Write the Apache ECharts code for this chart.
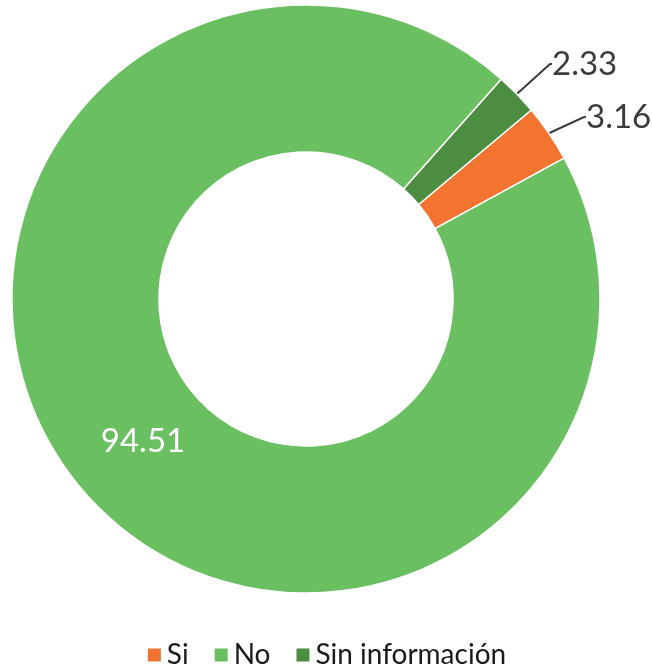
<!DOCTYPE html>
<html>
<head>
<meta charset="utf-8">
<script src="https://cdn.jsdelivr.net/npm/echarts@6/dist/echarts.min.js"></script>
<style>
  html, body { margin: 0; padding: 0; background: #fff; }
  #chart { width: 652px; height: 671px; }
</style>
</head>
<body>
<div id="chart"></div>
<script>
// categories and values (percent)
const categories = ['Si', 'No', 'Sin información']
const values = [3.16, 94.51, 2.33]
const colors = ['#F37430', '#6ABF61', '#4C8D41']

const chart = echarts.init(document.getElementById('chart'))

const pieData = categories.map((name, i) => {
    const item = { name: name, value: values[i], itemStyle: { color: colors[i] } }
    if (name === 'No') {
        // big slice gets its label inside, white
        item.label = { position: 'inside', color: '#fff', fontSize: 33, padding: 0 }
        item.labelLine = { show: false }
    }
    return item
})

// where the labels sit
const labelSpots = {
    0: { x: 580, y: 117, align: 'left' },
    1: { x: 143, y: 441, align: 'center' },
    2: { x: 546, y: 64, align: 'left' },
}

chart.setOption({
    animation: false,
    textStyle: { fontFamily: 'Lato, "Open Sans", sans-serif' },
    legend: {
        bottom: -3,
        left: 'center',
        icon: 'rect',
        itemWidth: 15,
        itemHeight: 15,
        itemGap: 24,
        textStyle: { fontSize: 28, color: '#1a1a1a', fontFamily: 'Lato, sans-serif' },
        data: categories,
    },
    series: [
        {
            type: 'pie',
            center: [306, 299],
            radius: ['45.1%', '90.2%'],
            startAngle: 40,
            clockwise: true,
            avoidLabelOverlap: false,
            itemStyle: { borderColor: '#fff', borderWidth: 1.5 },
            label: {
                show: true,
                position: 'outside',
                formatter: (p) => p.value.toFixed(2),
                fontSize: 33,
                color: '#3b3b3b',
                padding: [0, 0, 12, 6],
            },
            labelLine: {
                show: true,
                length: 36,
                length2: 2,
                lineStyle: { color: '#3b3b3b', width: 2 },
            },
            labelLayout: (p) => {
                const s = labelSpots[p.dataIndex]
                return { x: s.x, y: s.y, align: s.align, verticalAlign: 'middle' }
            },
            data: pieData,
        },
    ],
})
</script>
</body>
</html>
